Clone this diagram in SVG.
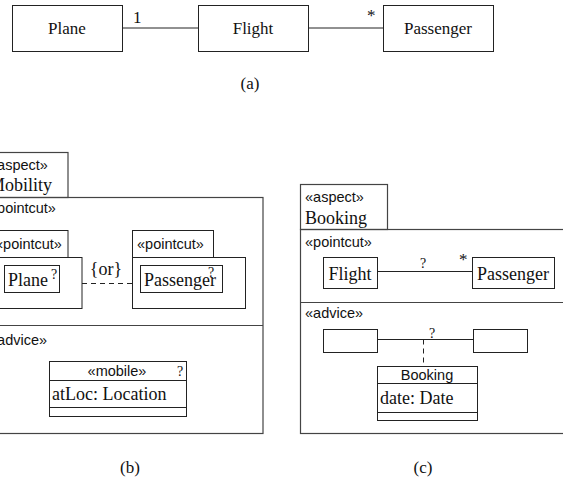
<svg xmlns="http://www.w3.org/2000/svg" width="563" height="480" viewBox="0 0 563 480">
<style>
.b{fill:#fff;stroke:#222;stroke-width:1}
.f{fill:none;stroke:#444;stroke-width:1.2}
.l{stroke:#222;stroke-width:1;fill:none}
.d{stroke:#222;stroke-width:1;fill:none;stroke-dasharray:5,4}
.s{font-family:"Liberation Sans",Arial,sans-serif;font-size:14.5px;fill:#111}
.t{font-family:"Liberation Serif","Times New Roman",serif;font-size:18px;fill:#111}
.ta{font-family:"Liberation Serif","Times New Roman",serif;font-size:17px;fill:#111}
.q{font-family:"Liberation Serif","Times New Roman",serif;font-size:14px;fill:#111}
.m{text-anchor:middle}
</style>
<rect width="563" height="480" fill="#fff"/>

<!-- (a) -->
<g id="a-connectors">
<line class="l" x1="122" y1="28" x2="198" y2="28"/>
<line class="l" x1="308" y1="28" x2="383" y2="28"/>
<text class="ta" x="133" y="23">1</text>
<text class="ta" x="367" y="21">*</text>
</g>
<g id="a-plane"><rect class="b" x="12.5" y="5.5" width="110" height="46"/><text class="ta m" x="67" y="34">Plane</text></g>
<g id="a-flight"><rect class="b" x="198.5" y="5.5" width="110" height="46"/><text class="ta m" x="253" y="34">Flight</text></g>
<g id="a-passenger"><rect class="b" x="383.5" y="5.5" width="110" height="46"/><text class="ta m" x="438" y="34">Passenger</text></g>
<text class="ta m" x="250" y="89">(a)</text>

<!-- (b) -->
<g id="b-aspect">
<rect class="f" x="-16" y="152.5" width="84" height="45"/>
<text class="s" x="-11" y="170">«aspect»</text>
<text class="t" x="-11" y="191">Mobility</text>
<rect class="f" x="-16" y="197.5" width="279" height="236"/>
<line class="f" x1="-16" y1="325.5" x2="263" y2="325.5"/>
<text class="s" x="-11" y="213">«pointcut»</text>
<text class="s" x="-11" y="345">«advice»</text>
</g>
<g id="b-pc-plane">
<rect class="b" x="-10" y="230.5" width="78" height="27"/>
<text class="s" x="-5" y="249">«pointcut»</text>
<rect class="b" x="-10" y="257.5" width="92" height="51"/>
<rect class="b" x="4.5" y="265.5" width="55" height="27"/>
<text class="t" x="8" y="286">Plane</text>
<text class="q" x="51" y="279">?</text>
</g>
<g id="b-pc-passenger">
<rect class="b" x="132.5" y="230.5" width="81" height="27"/>
<text class="s" x="137" y="249">«pointcut»</text>
<rect class="b" x="132.5" y="257.5" width="113" height="51"/>
<rect class="b" x="140.5" y="265.5" width="82" height="27"/>
<text class="t" x="144" y="286">Passenger</text>
<text class="q" x="208" y="277">?</text>
</g>
<g id="b-connectors">
<line class="d" x1="82" y1="283.5" x2="132" y2="283.5"/>
<text class="t m" x="106" y="275">{or}</text>
</g>
<g id="b-mobile">
<rect class="b" x="49.5" y="361.5" width="137" height="55"/>
<line class="l" x1="49.5" y1="380.5" x2="186.5" y2="380.5"/>
<line class="l" x1="49.5" y1="407.5" x2="186.5" y2="407.5"/>
<text class="s m" x="117" y="376">«mobile»</text>
<text class="q" x="177" y="376">?</text>
<text class="t" x="52" y="400">atLoc: Location</text>
</g>
<text class="ta m" x="130" y="473">(b)</text>

<!-- (c) -->
<g id="c-aspect">
<rect class="f" x="300.5" y="184.5" width="87" height="45"/>
<text class="s" x="305" y="202">«aspect»</text>
<text class="t" x="305" y="224">Booking</text>
<rect class="f" x="300.5" y="229.5" width="280" height="204"/>
<line class="f" x1="300.5" y1="302.5" x2="563" y2="302.5"/>
<text class="s" x="305" y="247">«pointcut»</text>
<text class="s" x="305" y="318">«advice»</text>
</g>
<g id="c-flight"><rect class="b" x="323.5" y="257.5" width="54" height="31"/><text class="t m" x="350" y="280">Flight</text></g>
<g id="c-passenger"><rect class="b" x="472.5" y="257.5" width="82" height="31"/><text class="t m" x="513" y="280">Passenger</text></g>
<g id="c-left"><rect class="b" x="323.5" y="329.5" width="54" height="23"/></g>
<g id="c-right"><rect class="b" x="473.5" y="329.5" width="54" height="23"/></g>
<g id="c-booking">
<rect class="b" x="377.5" y="366.5" width="100" height="54"/>
<line class="l" x1="377.5" y1="383.5" x2="477.5" y2="383.5"/>
<line class="l" x1="377.5" y1="412.5" x2="477.5" y2="412.5"/>
<text class="s m" x="427" y="380">Booking</text>
<text class="t" x="380" y="404">date: Date</text>
</g>
<g id="c-connectors">
<line class="l" x1="377" y1="271.5" x2="472" y2="271.5"/>
<text class="q m" x="423" y="268">?</text>
<text class="ta" x="459" y="265">*</text>
<line class="l" x1="377" y1="339.5" x2="473" y2="339.5"/>
<text class="q m" x="432" y="338">?</text>
<line class="d" x1="423.5" y1="339.5" x2="423.5" y2="366"/>
</g>
<text class="ta m" x="423" y="473">(c)</text>
</svg>
